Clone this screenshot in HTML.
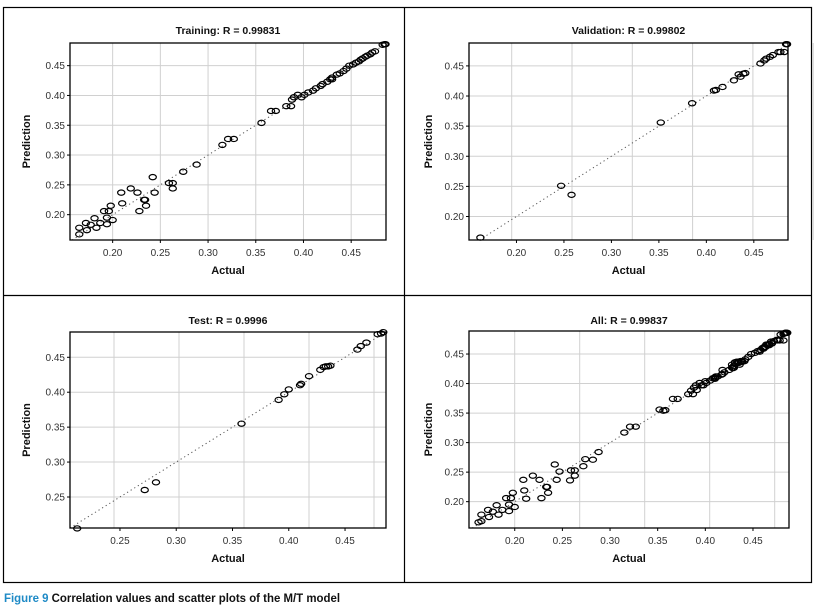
<!DOCTYPE html>
<html><head><meta charset="utf-8">
<style>
html,body{margin:0;padding:0;background:#fff;}
svg{display:block;font-family:"Liberation Sans",sans-serif;}
</style></head>
<body>
<svg id="fig" width="817" height="610" viewBox="0 0 817 610" xmlns="http://www.w3.org/2000/svg">
<rect x="3.5" y="7.5" width="808" height="575" fill="none" stroke="#000" stroke-width="1.2"/>
<line x1="404.5" y1="7" x2="404.5" y2="583" stroke="#000" stroke-width="1.2"/>
<line x1="3" y1="295.5" x2="812" y2="295.5" stroke="#000" stroke-width="1.2"/>
<text x="4" y="602" font-size="12" font-weight="bold" fill="#111" textLength="336" lengthAdjust="spacingAndGlyphs"><tspan fill="#1e8ac6">Figure 9</tspan> Correlation values and scatter plots of the M/T model</text>
</svg>
<script>
// ---- data ----
const trainActual = [0.165,0.165,0.173,0.172,0.177,0.181,0.183,0.187,0.191,0.194,0.194,0.196,0.198,0.200,0.209,0.210,0.219,0.226,0.228,0.233,0.234,0.235,0.242,0.244,0.259,0.263,0.263,0.274,0.288,0.315,0.321,0.327,0.356,0.366,0.371,0.382,0.387,0.388,0.390,0.394,0.398,0.401,0.405,0.410,0.413,0.418,0.420,0.425,0.428,0.430,0.430,0.435,0.438,0.442,0.445,0.448,0.452,0.455,0.458,0.460,0.462,0.465,0.467,0.470,0.472,0.475,0.483,0.485,0.486];
const trainPred   = [0.167,0.178,0.174,0.186,0.183,0.194,0.178,0.186,0.206,0.184,0.195,0.206,0.215,0.191,0.237,0.219,0.244,0.237,0.206,0.225,0.225,0.215,0.263,0.237,0.253,0.253,0.244,0.272,0.284,0.317,0.327,0.327,0.354,0.374,0.374,0.382,0.382,0.393,0.397,0.401,0.397,0.401,0.405,0.408,0.412,0.416,0.419,0.423,0.427,0.430,0.427,0.435,0.437,0.441,0.445,0.450,0.452,0.455,0.457,0.460,0.462,0.465,0.467,0.469,0.472,0.474,0.485,0.486,0.486];
const valActual = [0.162,0.247,0.258,0.352,0.385,0.408,0.410,0.417,0.429,0.434,0.436,0.439,0.441,0.457,0.461,0.463,0.467,0.470,0.476,0.478,0.482,0.484,0.485];
const valPred   = [0.165,0.251,0.236,0.356,0.388,0.409,0.410,0.415,0.426,0.436,0.432,0.437,0.438,0.454,0.459,0.462,0.465,0.468,0.473,0.473,0.473,0.486,0.486];
const testActual = [0.212,0.272,0.282,0.358,0.391,0.396,0.400,0.410,0.411,0.418,0.428,0.431,0.433,0.435,0.437,0.461,0.464,0.469,0.479,0.482,0.484];
const testPred   = [0.205,0.260,0.271,0.355,0.389,0.397,0.404,0.410,0.412,0.423,0.432,0.436,0.437,0.437,0.438,0.461,0.466,0.471,0.483,0.484,0.486];
const allActual = trainActual.concat(valActual, testActual);
const allPred   = trainPred.concat(valPred, testPred);
const titles = ["Training: R = 0.99831","Validation: R = 0.99802","Test: R = 0.9996","All: R = 0.99837"];
const xTicks1 = [0.20,0.25,0.30,0.35,0.40,0.45];
const yTicks1 = [0.20,0.25,0.30,0.35,0.40,0.45];
const xTicks3 = [0.25,0.30,0.35,0.40,0.45];
const yTicks3 = [0.25,0.30,0.35,0.40,0.45];

// ---- layout ----
const panels = [
 {name:"training", ax:trainActual, pr:trainPred, title:titles[0], L:70,R:386,T:43,B:240, xmin:0.1553,xmax:0.4865,ymin:0.1575,ymax:0.488, xt:xTicks1, yt:yTicks1, grid:null, yl:30, ty:30, xl:270},
 {name:"validation", ax:valActual, pr:valPred, title:titles[1], L:469,R:788,T:43,B:240, xmin:0.150,xmax:0.486,ymin:0.161,ymax:0.488, xt:xTicks1, yt:yTicks1, grid:[511.7,60.3], yl:432, ty:30, xl:270},
 {name:"test", ax:testActual, pr:testPred, title:titles[2], L:70,R:386,T:332,B:528, xmin:0.2056,xmax:0.4864,ymin:0.2056,ymax:0.4862, xt:xTicks3, yt:yTicks3, grid:[114,65], yl:30, ty:320, xl:558},
 {name:"all", ax:allActual, pr:allPred, title:titles[3], L:469,R:789,T:331,B:528, xmin:0.152,xmax:0.4878,ymin:0.1554,ymax:0.489, xt:xTicks1, yt:yTicks1, grid:[514.7,65], yl:432, ty:320, xl:558}
];
const NS="http://www.w3.org/2000/svg";
const svg=document.getElementById('fig');
function mk(tag,attrs,parent){const e=document.createElementNS(NS,tag);for(const k in attrs)e.setAttribute(k,attrs[k]);parent.appendChild(e);return e;}
panels.forEach(p=>{
  const g=mk('g',{},svg);
  
  
  const sx=v=>p.L+(v-p.xmin)/(p.xmax-p.xmin)*(p.R-p.L);
  const sy=v=>p.B-(v-p.ymin)/(p.ymax-p.ymin)*(p.B-p.T);
  // gridlines
  const gx = p.grid ? p.xt.map((t,i)=>p.grid[0]+i*p.grid[1]) : p.xt.map(sx);
  gx.forEach(x=>{const l=mk('line',{x1:x,x2:x,y1:p.T,y2:p.B,stroke:'#d0d0d0','stroke-width':1},g);
    
    });
  p.yt.forEach(t=>{const y=sy(t);const l=mk('line',{x1:p.L,x2:p.R,y1:y,y2:y,stroke:'#d0d0d0','stroke-width':1},g);
    
    });
  // ticks & labels
  p.xt.forEach(t=>{const x=sx(t);
    const tk=mk('line',{x1:x,x2:x,y1:p.B,y2:p.B+3,stroke:'#000','stroke-width':1},g);
    
    
    const tx=mk('text',{x:x,y:p.B+16,'text-anchor':'middle','font-size':10,fill:'#333'},g);tx.textContent=t.toFixed(2);
    
    });
  p.yt.forEach(t=>{const y=sy(t);
    const tk=mk('line',{x1:p.L-3,x2:p.L,y1:y,y2:y,stroke:'#000','stroke-width':1},g);
    
    
    const tx=mk('text',{x:p.L-5,y:y+3.5,'text-anchor':'end','font-size':10,fill:'#333'},g);tx.textContent=t.toFixed(2);
    
    });
  // diagonal
  const lo=Math.max(p.xmin,p.ymin), hi=Math.min(p.xmax,p.ymax);
  const d=mk('line',{x1:sx(lo),y1:sy(lo),x2:sx(hi),y2:sy(hi),stroke:'#555','stroke-width':1,'stroke-dasharray':'1.2 3'},g);
  
  
  // points
  p.ax.forEach((a,i)=>{const c=mk('ellipse',{cx:sx(a),cy:sy(p.pr[i]),rx:3.6,ry:2.6,fill:'none',stroke:'#000','stroke-width':1.2},g);
    
    });
  // frame
  const f=mk('rect',{x:p.L,y:p.T,width:p.R-p.L,height:p.B-p.T,fill:'none',stroke:'#000','stroke-width':1.3},g);
  
  
  // titles
  const cx=(p.L+p.R)/2;
  const tt=mk('text',{x:cx,y:p.ty+4,'text-anchor':'middle','font-size':10.5,'font-weight':'bold',fill:'#111'},g);tt.textContent=p.title;
  
  
  const xa=mk('text',{x:cx,y:p.xl+4,'text-anchor':'middle','font-size':11,'font-weight':'bold',fill:'#111'},g);xa.textContent='Actual';
  
  
  const my=(p.T+p.B)/2;
  const ya=mk('text',{x:p.yl,y:my,'text-anchor':'middle','font-size':11,'font-weight':'bold',fill:'#111',transform:`rotate(-90 ${p.yl} ${my})`},g);ya.textContent='Prediction';
  
  
});
</script>
</body></html>
